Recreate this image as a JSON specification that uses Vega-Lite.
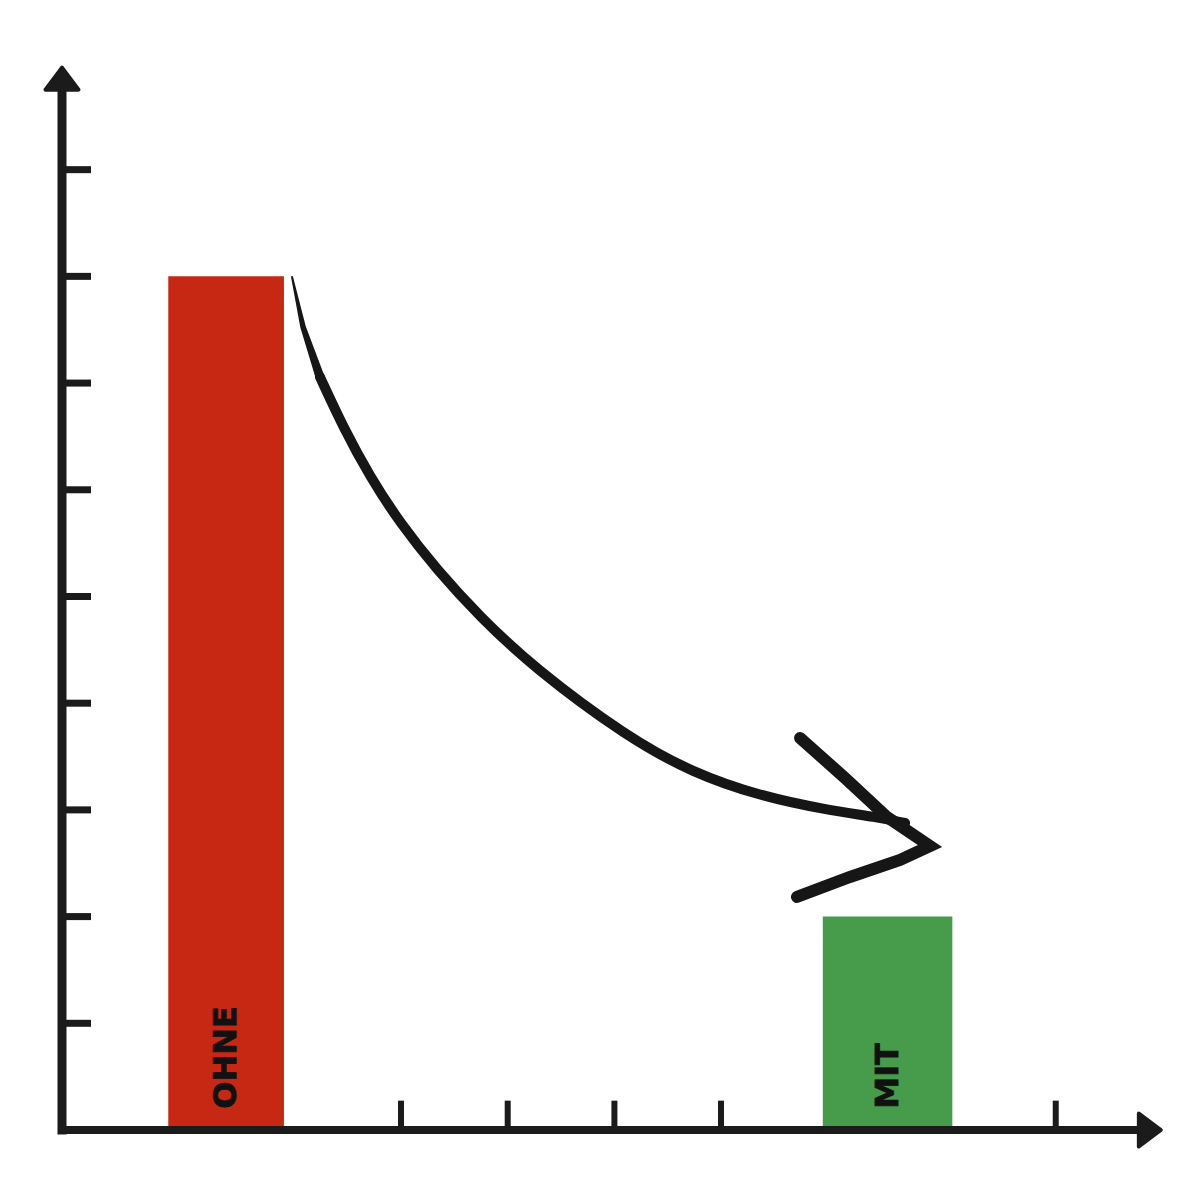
{
  "$schema": "https://vega.github.io/schema/vega-lite/v6.json",
  "width": 1200,
  "height": 1200,
  "autosize": {"type": "fit", "contains": "padding"},
  "padding": 0,
  "background": "white",
  "config": {"view": {"stroke": null}},
  "datasets": {
    "bars": [
      {"label": "OHNE", "value": 8, "from": 0.996, "to": 2.08},
      {"label": "MIT", "value": 2, "from": 7.13, "to": 8.344}
    ],
    "curve": [
      {"i": 0, "x": 2.156, "y": 7.994},
      {"i": 1, "x": 2.259, "y": 7.526},
      {"i": 2, "x": 2.418, "y": 7.057},
      {"i": 3, "x": 2.634, "y": 6.589},
      {"i": 4, "x": 2.887, "y": 6.12},
      {"i": 5, "x": 3.168, "y": 5.689},
      {"i": 6, "x": 3.515, "y": 5.248},
      {"i": 7, "x": 3.918, "y": 4.808},
      {"i": 8, "x": 4.414, "y": 4.339},
      {"i": 9, "x": 5.295, "y": 3.683},
      {"i": 10, "x": 5.914, "y": 3.346},
      {"i": 11, "x": 6.542, "y": 3.13},
      {"i": 12, "x": 7.17, "y": 2.999},
      {"i": 13, "x": 7.638, "y": 2.933},
      {"i": 14, "x": 7.901, "y": 2.877}
    ],
    "head": [
      {"i": 0, "x": 6.917, "y": 3.674},
      {"i": 1, "x": 7.338, "y": 3.299},
      {"i": 2, "x": 7.732, "y": 2.933},
      {"i": 3, "x": 8.135, "y": 2.662},
      {"i": 4, "x": 7.854, "y": 2.53},
      {"i": 5, "x": 7.385, "y": 2.371},
      {"i": 6, "x": 6.888, "y": 2.184}
    ],
    "yticks": [{"v": 1}, {"v": 2}, {"v": 3}, {"v": 4}, {"v": 5}, {"v": 6}, {"v": 7}, {"v": 8}, {"v": 9}],
    "xticks": [{"u": 3.177}, {"u": 4.177}, {"u": 5.177}, {"u": 6.176}, {"u": 9.313}]
  },
  "layer": [
    {
      "data": {"name": "bars"},
      "mark": {"type": "rect"},
      "encoding": {
        "x": {"field": "from", "type": "quantitative", "scale": {"domain": [-0.581, 10.665], "nice": false, "zero": false}, "axis": null},
        "x2": {"field": "to"},
        "y": {"field": "value", "type": "quantitative", "scale": {"domain": [-0.656, 10.59], "nice": false, "zero": false}, "axis": null},
        "y2": {"datum": 0},
        "color": {"field": "label", "type": "nominal", "scale": {"domain": ["OHNE", "MIT"], "range": ["#C62814", "#479C4B"]}, "legend": null}
      }
    },
    {
      "data": {"name": "bars"},
      "transform": [{"calculate": "(datum.from + datum.to) / 2", "as": "mid"}],
      "mark": {"type": "text", "angle": 270, "align": "left", "baseline": "middle", "font": "DejaVu Sans", "fontWeight": "bold", "fontSize": 32, "letterSpacing": 3.5, "fill": "#111111", "stroke": "#111111", "strokeWidth": 0.8},
      "encoding": {
        "x": {"field": "mid", "type": "quantitative", "scale": {"domain": [-0.581, 10.665], "nice": false, "zero": false}, "axis": null},
        "y": {"datum": 0.2, "type": "quantitative", "scale": {"domain": [-0.656, 10.59], "nice": false, "zero": false}, "axis": null},
        "text": {"field": "label"}
      }
    },
    {
      "data": {"values": [{}]},
      "mark": {"type": "rule", "color": "#1b1b1b", "strokeWidth": 9, "strokeCap": "square"},
      "encoding": {
        "x": {"datum": 0, "type": "quantitative", "scale": {"domain": [-0.581, 10.665], "nice": false, "zero": false}, "axis": null},
        "y": {"datum": 0, "type": "quantitative", "scale": {"domain": [-0.656, 10.59], "nice": false, "zero": false}, "axis": null},
        "y2": {"datum": 9.75}
      }
    },
    {
      "data": {"values": [{}]},
      "mark": {"type": "rule", "color": "#1b1b1b", "strokeWidth": 8, "strokeCap": "square"},
      "encoding": {
        "x": {"datum": 0, "type": "quantitative", "scale": {"domain": [-0.581, 10.665], "nice": false, "zero": false}, "axis": null},
        "x2": {"datum": 10.1},
        "y": {"datum": 0, "type": "quantitative", "scale": {"domain": [-0.656, 10.59], "nice": false, "zero": false}, "axis": null}
      }
    },
    {
      "data": {"name": "yticks"},
      "mark": {"type": "rule", "color": "#1b1b1b", "strokeWidth": 7},
      "encoding": {
        "x": {"datum": 0, "type": "quantitative", "scale": {"domain": [-0.581, 10.665], "nice": false, "zero": false}, "axis": null},
        "x2": {"datum": 0.272},
        "y": {"field": "v", "type": "quantitative", "scale": {"domain": [-0.656, 10.59], "nice": false, "zero": false}, "axis": null}
      }
    },
    {
      "data": {"name": "xticks"},
      "mark": {"type": "rule", "color": "#1b1b1b", "strokeWidth": 6},
      "encoding": {
        "x": {"field": "u", "type": "quantitative", "scale": {"domain": [-0.581, 10.665], "nice": false, "zero": false}, "axis": null},
        "y": {"datum": 0, "type": "quantitative", "scale": {"domain": [-0.656, 10.59], "nice": false, "zero": false}, "axis": null},
        "y2": {"datum": 0.275}
      }
    },
    {
      "data": {"values": [{}]},
      "mark": {"type": "point", "shape": "M0,-1L1.5,1L-1.5,1Z", "size": 484, "filled": true, "fill": "#1b1b1b", "stroke": "#1b1b1b", "strokeWidth": 4, "strokeJoin": "round", "opacity": 1},
      "encoding": {
        "x": {"datum": 0, "type": "quantitative", "scale": {"domain": [-0.581, 10.665], "nice": false, "zero": false}, "axis": null},
        "y": {"datum": 9.853, "type": "quantitative", "scale": {"domain": [-0.656, 10.59], "nice": false, "zero": false}, "axis": null}
      }
    },
    {
      "data": {"values": [{}]},
      "mark": {"type": "point", "shape": "M1,0L-1,1.5L-1,-1.5Z", "size": 484, "filled": true, "fill": "#1b1b1b", "stroke": "#1b1b1b", "strokeWidth": 4, "strokeJoin": "round", "opacity": 1},
      "encoding": {
        "x": {"datum": 10.195, "type": "quantitative", "scale": {"domain": [-0.581, 10.665], "nice": false, "zero": false}, "axis": null},
        "y": {"datum": 0, "type": "quantitative", "scale": {"domain": [-0.656, 10.59], "nice": false, "zero": false}, "axis": null}
      }
    },
    {
      "data": {"name": "curve"},
      "transform": [{"filter": "datum.i <= 2"}],
      "mark": {"type": "trail", "color": "#161616"},
      "encoding": {
        "x": {"field": "x", "type": "quantitative", "scale": {"domain": [-0.581, 10.665], "nice": false, "zero": false}, "axis": null},
        "y": {"field": "y", "type": "quantitative", "scale": {"domain": [-0.656, 10.59], "nice": false, "zero": false}, "axis": null},
        "order": {"field": "i", "type": "quantitative"},
        "size": {"field": "i", "type": "quantitative", "scale": {"domain": [0, 2], "range": [2, 9]}, "legend": null}
      }
    },
    {
      "data": {"name": "curve"},
      "transform": [{"filter": "datum.i >= 2"}],
      "mark": {"type": "line", "interpolate": "basis", "color": "#161616", "strokeWidth": 10, "strokeCap": "round"},
      "encoding": {
        "x": {"field": "x", "type": "quantitative", "scale": {"domain": [-0.581, 10.665], "nice": false, "zero": false}, "axis": null},
        "y": {"field": "y", "type": "quantitative", "scale": {"domain": [-0.656, 10.59], "nice": false, "zero": false}, "axis": null},
        "order": {"field": "i", "type": "quantitative"}
      }
    },
    {
      "data": {"name": "head"},
      "mark": {"type": "line", "interpolate": "linear", "color": "#161616", "strokeWidth": 12, "strokeCap": "round", "strokeJoin": "miter", "strokeMiterLimit": 10},
      "encoding": {
        "x": {"field": "x", "type": "quantitative", "scale": {"domain": [-0.581, 10.665], "nice": false, "zero": false}, "axis": null},
        "y": {"field": "y", "type": "quantitative", "scale": {"domain": [-0.656, 10.59], "nice": false, "zero": false}, "axis": null},
        "order": {"field": "i", "type": "quantitative"}
      }
    }
  ],
  "resolve": {"scale": {"color": "independent", "size": "independent"}}
}
